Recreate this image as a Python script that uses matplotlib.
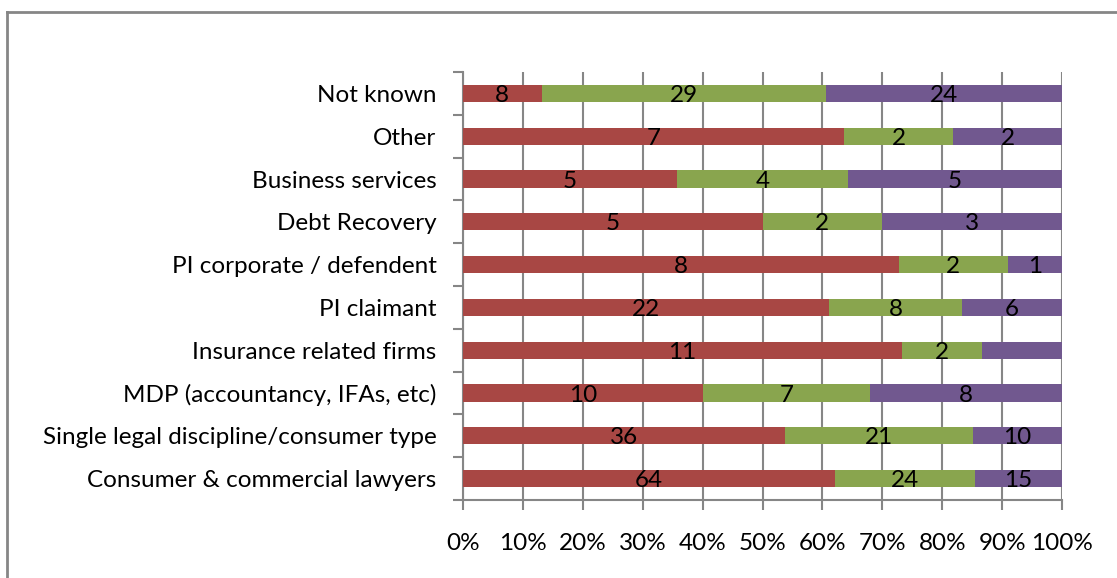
import numpy as np
import matplotlib
matplotlib.use("Agg")
import matplotlib.pyplot as plt
from matplotlib.lines import Line2D

plt.rcParams['font.family'] = ['Lato', 'DejaVu Sans']

# data (bottom to top)
categories = ['Consumer & commercial lawyers', 'Single legal discipline/consumer type',
              'MDP (accountancy, IFAs, etc)', 'Insurance related firms', 'PI claimant',
              'PI corporate / defendent', 'Debt Recovery', 'Business services',
              'Other', 'Not known']
series_a = [64, 36, 10, 11, 22, 8, 5, 5, 7, 8]
series_b = [24, 21, 7, 2, 8, 2, 2, 4, 2, 29]
series_c = [15, 10, 8, 2, 6, 1, 3, 5, 2, 24]
# labels Excel did not show
hidden_labels = [(3, 2)]

colors = ['#A84744', '#89A54E', '#71588F']
fs = 17.5

values = np.array([series_a, series_b, series_c], dtype=float)
shares = values / values.sum(axis=0)

fig = plt.figure(figsize=(11.17, 5.78), dpi=100)
ax = fig.add_axes([463 / 1117, 1 - 500 / 578, 599 / 1117, 428 / 578])

y = np.arange(len(categories))
left = np.zeros(len(categories))
for s in range(3):
    ax.barh(y, shares[s], left=left, height=0.4, color=colors[s], zorder=3)
    for i in range(len(categories)):
        if (i, s) in hidden_labels:
            continue
        ax.text(left[i] + shares[s][i] / 2, y[i] - 0.05, f"{int(values[s][i])}",
                ha='center', va='center', fontsize=fs, color='black', zorder=4)
    left += shares[s]

ax.set_xlim(0, 1)
ax.set_ylim(-0.5, len(categories) - 0.5)
ax.set_xticks(np.arange(0, 1.01, 0.1))
ax.set_xticklabels([f"{int(round(v * 100))}%" for v in np.arange(0, 1.01, 0.1)], fontsize=fs)
ax.set_yticks(y)
ax.set_yticklabels(categories, fontsize=fs)
ax.set_yticks(np.arange(-0.5, len(categories), 1), minor=True)
ax.tick_params(axis='y', which='major', length=0, pad=19)
ax.tick_params(axis='y', which='minor', length=7, width=1.5, color='#868686')
ax.tick_params(axis='x', length=7, width=1.5, color='#868686', pad=17)
ax.xaxis.grid(True, color='#868686', linewidth=1.5, zorder=0)
for side in ['top', 'right']:
    ax.spines[side].set_visible(False)
for side in ['left', 'bottom']:
    ax.spines[side].set_color('#868686')
    ax.spines[side].set_linewidth(1.5)

# chart-area border (cut off at right and bottom)
fig.add_artist(Line2D([7 / 1117, 7 / 1117], [0, 1 - 12 / 578], color='#868686', linewidth=2))
fig.add_artist(Line2D([7 / 1117, 1], [1 - 12 / 578, 1 - 12 / 578], color='#868686', linewidth=2))

fig.savefig('out.png', dpi=100)
